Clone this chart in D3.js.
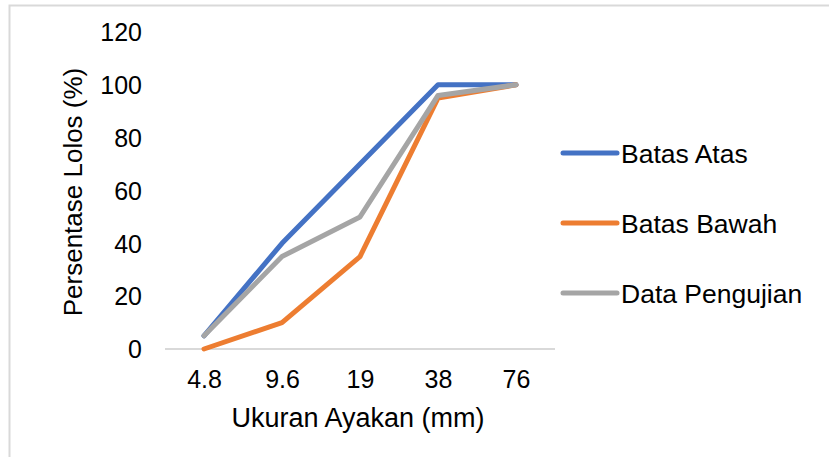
<!DOCTYPE html>
<html>
<head>
<meta charset="utf-8">
<script src="https://cdn.jsdelivr.net/npm/d3@7"></script>
<style>
  html, body { margin: 0; padding: 0; background: #fff; }
  svg text { font-family: "Liberation Sans", Arial, sans-serif; fill: #000; }
</style>
</head>
<body>
<svg id="chart" width="829" height="457"></svg>
<script>
// Sieve sizes (mm) and percentage passing for each grading curve
const sieveSizes = ["4.8", "9.6", "19", "38", "76"];
const batasAtas = [5, 40, 70, 100, 100];
const batasBawah = [0, 10, 35, 95, 100];
const dataPengujian = [5, 35, 50, 96, 100];
const yTicks = [0, 20, 40, 60, 80, 100, 120];

const series = [
  { name: "Batas Atas", values: batasAtas, color: "#4472C4" },
  { name: "Batas Bawah", values: batasBawah, color: "#ED7D31" },
  { name: "Data Pengujian", values: dataPengujian, color: "#A5A5A5" }
];

const svg = d3.select("#chart");
const plot = { left: 165, right: 555, top: 32, bottom: 349 };

// outer chart frame
svg.append("rect")
  .attr("x", 9.5).attr("y", 5.5)
  .attr("width", 900).attr("height", 600)
  .attr("fill", "none").attr("stroke", "#d9d9d9").attr("stroke-width", 2);

const x = d3.scalePoint().domain(sieveSizes)
  .range([plot.left, plot.right]).padding(0.5);
const y = d3.scaleLinear().domain([0, 120]).range([plot.bottom, plot.top]);

// category axis
const xAxis = svg.append("g")
  .attr("transform", `translate(0,${plot.bottom})`)
  .call(d3.axisBottom(x).tickSize(0).tickPadding(0));
xAxis.select(".domain").attr("stroke", "#d9d9d9").attr("stroke-width", 2)
  .attr("d", `M${plot.left},0H${plot.right}`);
xAxis.selectAll(".tick text")
  .attr("y", 39).attr("dy", null)
  .attr("font-size", 25).attr("font-family", null).attr("fill", "#000");

// value axis (labels only)
const yAxis = svg.append("g")
  .attr("transform", `translate(142,0)`)
  .call(d3.axisLeft(y).tickValues(yTicks).tickSize(0).tickPadding(0));
yAxis.select(".domain").remove();
yAxis.selectAll(".tick text")
  .attr("x", 0).attr("dy", "0.35em")
  .attr("font-size", 25).attr("font-family", null).attr("fill", "#000");

// axis titles
svg.append("text")
  .attr("x", 358).attr("y", 427)
  .attr("text-anchor", "middle").attr("font-size", 27)
  .text("Ukuran Ayakan (mm)");
svg.append("text")
  .attr("transform", "translate(82,192) rotate(-90)")
  .attr("text-anchor", "middle").attr("font-size", 26)
  .text("Persentase Lolos (%)");

// grading curves
const line = d3.line()
  .x((d, i) => x(sieveSizes[i]))
  .y(d => y(d));

svg.append("g").selectAll("path")
  .data(series)
  .join("path")
  .attr("d", d => line(d.values))
  .attr("fill", "none")
  .attr("stroke", d => d.color)
  .attr("stroke-width", 5)
  .attr("stroke-linecap", "round")
  .attr("stroke-linejoin", "round");

// legend
const legend = svg.append("g").selectAll("g")
  .data(series)
  .join("g")
  .attr("transform", (d, i) => `translate(563,${153 + i * 70})`);
legend.append("line")
  .attr("x1", 0).attr("x2", 54)
  .attr("stroke", d => d.color).attr("stroke-width", 5)
  .attr("stroke-linecap", "round");
legend.append("text")
  .attr("x", 58).attr("y", 10)
  .attr("font-size", 26.5)
  .text(d => d.name);
</script>
</body>
</html>
